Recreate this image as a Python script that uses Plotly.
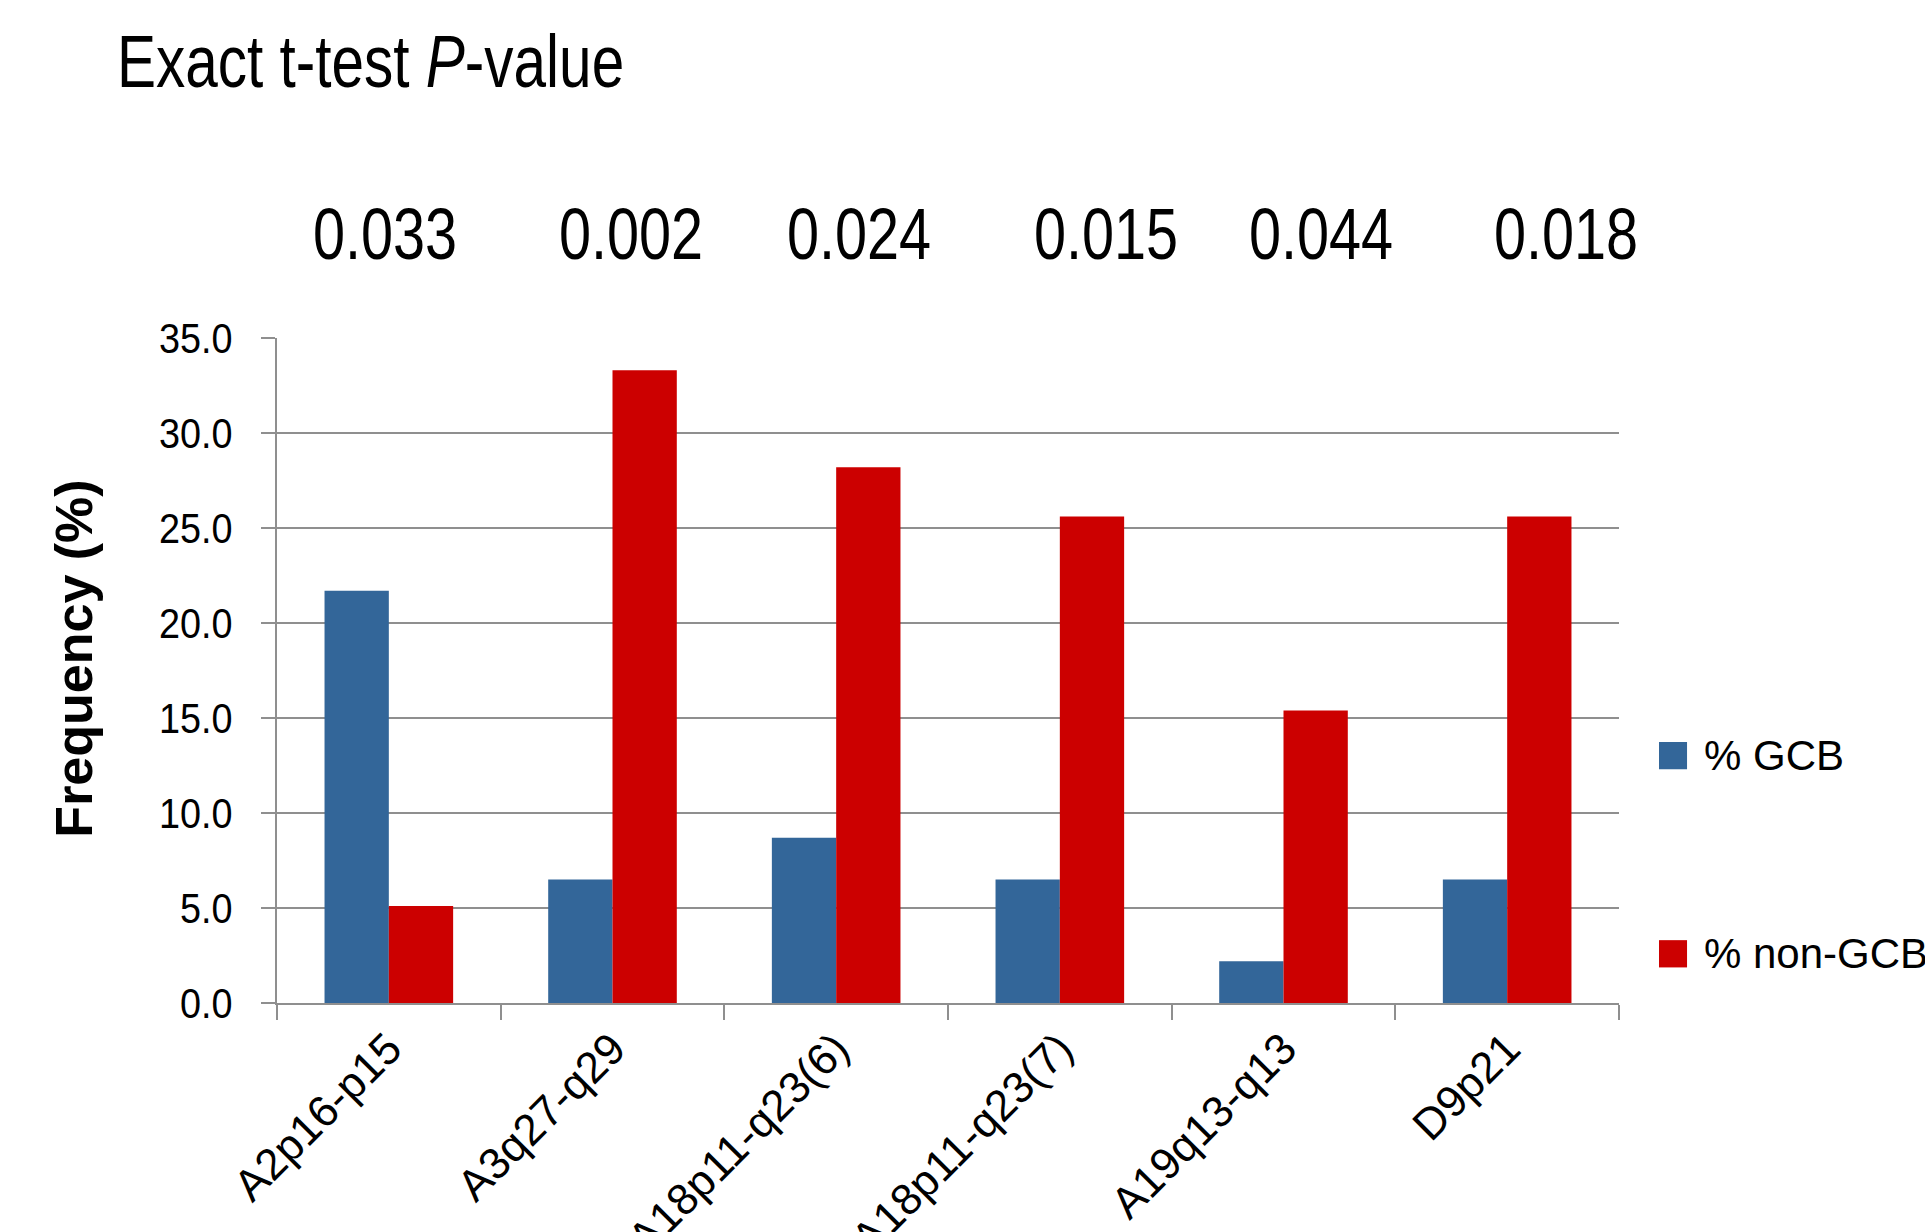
import plotly.graph_objects as go

# Chromosomal regions and alteration frequencies (%) per subtype
regions = ["A2p16-p15", "A3q27-q29", "A18p11-q23(6)", "A18p11-q23(7)", "A19q13-q13", "D9p21"]
gcb_pct = [21.7, 6.5, 8.7, 6.5, 2.2, 6.5]
non_gcb_pct = [5.1, 33.3, 28.2, 25.6, 15.4, 25.6]
p_values = ["0.033", "0.002", "0.024", "0.015", "0.044", "0.018"]
p_label_shift = [-4, 18, 23, 46, 37, 59]

series_names = ["% GCB", "% non-GCB"]
series_colors = ["#336699", "#CC0000"]
y_ticks = [0, 5, 10, 15, 20, 25, 30, 35]

FONT = "Liberation Sans, Arial, sans-serif"
GRID = "#8f8f8f"

fig = go.Figure()
for name, vals, col in zip(series_names, [gcb_pct, non_gcb_pct], series_colors):
    fig.add_trace(go.Bar(x=regions, y=vals, name=name,
                         marker=dict(color=col, line=dict(width=0)),
                         showlegend=False))

# P-value row above the bars
annotations = []
for reg, p, dx in zip(regions, p_values, p_label_shift):
    annotations.append(dict(x=reg, xref="x", y=1.156, yref="paper", text=p,
                            showarrow=False, xshift=dx, yanchor="middle",
                            font=dict(family=FONT, size=72, color="black")))

# Legend: coloured squares with labels on the right of the plot
legend_rows = [0.372, 0.074]
shapes = []
for name, col, yc in zip(series_names, series_colors, legend_rows):
    shapes.append(dict(type="rect", xref="paper", yref="paper",
                       x0=1.0298, x1=1.0507, y0=yc - 0.0205, y1=yc + 0.0205,
                       fillcolor=col, line=dict(width=0)))
    annotations.append(dict(x=1.0618, xref="paper", y=yc, yref="paper", text=name,
                            showarrow=False, xanchor="left", yanchor="middle",
                            font=dict(family=FONT, size=42, color="black")))

fig.update_layout(
    width=1925, height=1232,
    margin=dict(l=277, r=306, t=338, b=229, autoexpand=False),
    paper_bgcolor="white", plot_bgcolor="white",
    barmode="group", bargap=0.425, bargroupgap=0,
    title=dict(text="Exact t-test <i>P</i>-value", xref="container", yref="container",
               x=0.0608, xanchor="left", y=0.9505, yanchor="middle",
               font=dict(family=FONT, size=75, color="black")),
    annotations=annotations,
    shapes=shapes,
    showlegend=False,
)

fig.update_yaxes(
    range=[0, 35], tickvals=y_ticks, tickformat=".1f",
    showgrid=True, gridcolor=GRID, gridwidth=2,
    showline=True, linecolor=GRID, linewidth=2,
    ticks="outside", ticklen=14, tickwidth=2, tickcolor=GRID,
    ticklabelstandoff=20,
    tickfont=dict(family=FONT, size=42, color="black"),
    title=dict(text="<b>Frequency (%)</b>", standoff=42,
               font=dict(family=FONT, size=52, color="black")),
    zeroline=False,
)

fig.update_xaxes(
    type="category", tickson="boundaries", range=[-0.5, 5.5],
    showline=True, linecolor=GRID, linewidth=2,
    ticks="outside", ticklen=15, tickwidth=2, tickcolor=GRID,
    tickangle=-45,
    tickfont=dict(family=FONT, size=44, color="black"),
    showgrid=False,
)

# Narrow lettering for the heading, the P-values and the y tick labels:
# compress each text horizontally about its anchor point. The y-axis title
# sits a little above the middle of the axis.
condense_js = """
var gd = document.getElementById('{plot_id}');
function baseOf(el) {
  var base = el.getAttribute('data-base-transform');
  if (base === null) { base = el.getAttribute('transform') || ''; el.setAttribute('data-base-transform', base); }
  return base;
}
function squeeze(el, s) {
  var x = parseFloat(el.getAttribute('x')) || 0;
  el.setAttribute('transform', baseOf(el) + ' translate(' + x + ',0) scale(' + s + ',1) translate(' + (-x) + ',0)');
}
function condense() {
  gd.querySelectorAll('text.gtitle').forEach(function (t) { squeeze(t, 0.78); });
  gd.querySelectorAll('text.annotation-text').forEach(function (t) {
    if (/^0\\.\\d+$/.test(t.textContent.trim())) { squeeze(t, 0.8); }
  });
  gd.querySelectorAll('g.ytick text').forEach(function (t) { squeeze(t, 0.9); });
  gd.querySelectorAll('text.ytitle').forEach(function (t) {
    t.setAttribute('transform', 'translate(0,-12) ' + baseOf(t));
  });
}
condense();
gd.on('plotly_afterplot', condense);
"""

fig.write_html("out.html", post_script=condense_js)
